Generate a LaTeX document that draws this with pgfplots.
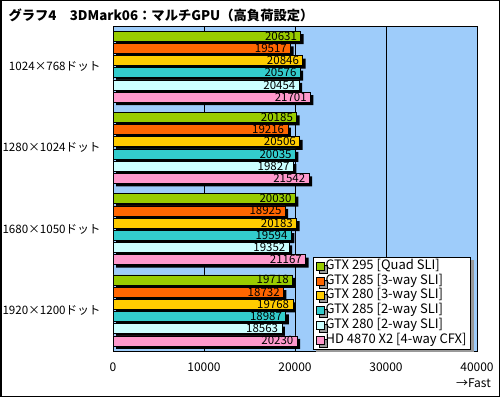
\documentclass[border=0pt]{standalone}
\usepackage{fontspec}
\setmainfont{Noto Sans CJK JP}
\usepackage{pgfplots}
\usepackage{pgfplotstable}
\pgfplotsset{compat=1.18}
\usetikzlibrary{shadows}
\definecolor{bgblue}{RGB}{158,204,250}
\definecolor{cA}{RGB}{153,204,0}
\definecolor{cB}{RGB}{255,102,0}
\definecolor{cC}{RGB}{255,204,0}
\definecolor{cD}{RGB}{51,204,204}
\definecolor{cE}{RGB}{204,255,255}
\definecolor{cF}{RGB}{255,153,204}
\pgfplotstableread{
y a b c d e f
3 20631 19517 20846 20576 20454 21701
2 20185 19216 20506 20035 19827 21542
1 20030 18925 20183 19594 19352 21167
0 19718 18732 19768 18987 18563 20230
}\datatable
\begin{document}
\begin{tikzpicture}[x=1pt,y=1pt]
\path[use as bounding box] (0,0) rectangle (500,397);
\begin{axis}[
  at={(113pt,46pt)}, anchor=south west, scale only axis,
  width=364pt, height=325pt,
  xbar, bar width=10pt,
  xmin=0, xmax=40000, ymin=-0.5, ymax=3.5,
  ytick={0,1,2,3},
  yticklabels={1920×1200ドット,1680×1050ドット,1280×1024ドット,1024×768ドット},
  xtick={0,10000,20000,30000,40000},
  scaled x ticks=false,
  xmajorgrids, grid style={black, line width=0.8pt},
  major tick length=0pt,
  axis background/.style={fill=bgblue},
  axis line style={black, line width=0.8pt},
  tick label style={font=\fontsize{12}{13}\selectfont},
  yticklabel style={font=\fontsize{11.6}{13}\selectfont, xshift=-9pt},
  xticklabel style={yshift=-8pt},
  /pgf/number format/1000 sep={},
  /pgf/number format/assume math mode=true,
  legend image code/.code={\draw[#1, draw=black, line width=0.5pt] (0pt,-4pt) rectangle (8pt,4pt);},
  legend style={at={(0.549,0.006)}, anchor=south west, draw=black, fill=white,
    font=\fontsize{13}{14}\selectfont, legend cell align=left,
    nodes={inner sep=1pt, text height=9pt, text depth=2.5pt}, row sep=1.3pt,
    drop shadow={shadow xshift=3pt, shadow yshift=-3pt, fill=gray!80, opacity=1}},
  every node near coord/.append style={anchor=east, font=\fontsize{11.5}{12}\selectfont, inner xsep=3.5pt, inner ysep=1pt, text=black},
]
\addplot[fill=black, draw=none, forget plot, bar shift=30.5pt, transform canvas={xshift=3pt,yshift=-3pt}] table[x=a,y=y]{\datatable};
\addplot[fill=black, draw=none, forget plot, bar shift=18.3pt, transform canvas={xshift=3pt,yshift=-3pt}] table[x=b,y=y]{\datatable};
\addplot[fill=black, draw=none, forget plot, bar shift=6.1pt, transform canvas={xshift=3pt,yshift=-3pt}] table[x=c,y=y]{\datatable};
\addplot[fill=black, draw=none, forget plot, bar shift=-6.1pt, transform canvas={xshift=3pt,yshift=-3pt}] table[x=d,y=y]{\datatable};
\addplot[fill=black, draw=none, forget plot, bar shift=-18.3pt, transform canvas={xshift=3pt,yshift=-3pt}] table[x=e,y=y]{\datatable};
\addplot[fill=black, draw=none, forget plot, bar shift=-30.5pt, transform canvas={xshift=3pt,yshift=-3pt}] table[x=f,y=y]{\datatable};
\addplot[fill=cA, draw=black, line width=0.6pt, bar shift=30.5pt, nodes near coords] table[x=a,y=y]{\datatable};
\addlegendentry{GTX 295 [Quad SLI]}
\addplot[fill=cB, draw=black, line width=0.6pt, bar shift=18.3pt, nodes near coords] table[x=b,y=y]{\datatable};
\addlegendentry{GTX 285 [3-way SLI]}
\addplot[fill=cC, draw=black, line width=0.6pt, bar shift=6.1pt, nodes near coords] table[x=c,y=y]{\datatable};
\addlegendentry{GTX 280 [3-way SLI]}
\addplot[fill=cD, draw=black, line width=0.6pt, bar shift=-6.1pt, nodes near coords] table[x=d,y=y]{\datatable};
\addlegendentry{GTX 285 [2-way SLI]}
\addplot[fill=cE, draw=black, line width=0.6pt, bar shift=-18.3pt, nodes near coords] table[x=e,y=y]{\datatable};
\addlegendentry{GTX 280 [2-way SLI]}
\addplot[fill=cF, draw=black, line width=0.6pt, bar shift=-30.5pt, nodes near coords] table[x=f,y=y]{\datatable};
\addlegendentry{HD 4870 X2 [4-way CFX]}
\end{axis}
\node[anchor=west, font=\bfseries\fontsize{13.3}{14}\selectfont] at (5,382) {グラフ4　3DMark06：マルチGPU（高負荷設定）};
\node[anchor=east, font=\fontsize{12}{13}\selectfont, inner sep=0pt] at (491,14) {→Fast};
\draw[black, line width=1.5pt] (0.75,0.75) rectangle (499.25,396.25);
\end{tikzpicture}
\end{document}
